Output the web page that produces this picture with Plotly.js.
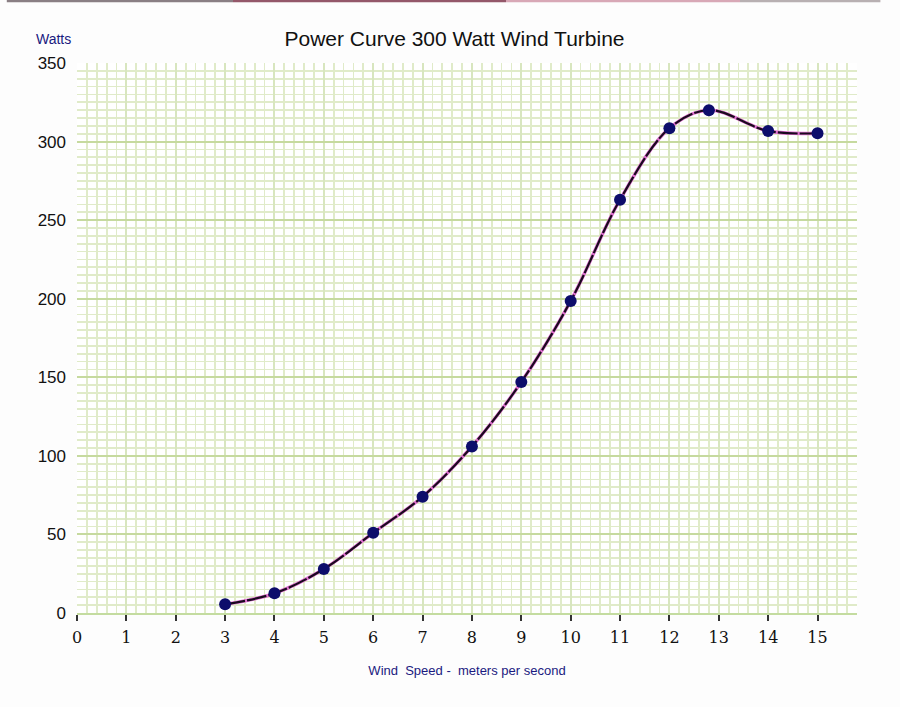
<!DOCTYPE html>
<html><head><meta charset="utf-8">
<script src="https://cdn.plot.ly/plotly-3.0.1.min.js"></script>
<style>html,body{margin:0;padding:0;background:#fdfdfd;}#chart{width:900px;height:707px;}</style>
</head><body><div id="chart"></div>
<script>
const windSpeed = [3, 4, 5, 6, 7, 8, 9, 10, 11, 12, 12.8, 14, 15];
const watts = [5.5, 12.5, 28, 51, 74, 106, 147, 198.5, 263, 308.5, 320, 306.7, 305.3];
const xTicks = [0,1,2,3,4,5,6,7,8,9,10,11,12,13,14,15,16];
const yTicks = [0,50,100,150,200,250,300,350];

const traces = [
  {x: windSpeed, y: watts, mode: 'lines', line: {shape: 'spline', smoothing: 1, color: '#e070d0', width: 3.4}, hoverinfo: 'skip'},
  {x: windSpeed, y: watts, mode: 'lines+markers', line: {shape: 'spline', smoothing: 1, color: '#1a0a1e', width: 2.2, dash: '20px,2px'},
   marker: {color: '#0d0d6b', size: 12}}
];
const gridFaint = '#e0ebc9';
const layout = {
  width: 900, height: 707,
  paper_bgcolor: '#fdfdfd', plot_bgcolor: '#ffffff',
  margin: {l: 77, r: 43, t: 63, b: 94},
  showlegend: false,
  title: {text: 'Power Curve 300 Watt Wind Turbine', x: 0.505, xanchor: 'center', y: 0.945, yanchor: 'middle',
          font: {family: 'Liberation Sans, Arial, sans-serif', size: 21, color: '#111'}},
  xaxis: {
    range: [0, 15.8], tickmode: 'linear', tick0: xTicks[0], dtick: xTicks[1] - xTicks[0],
    ticks: 'outside', ticklen: 6, tickcolor: '#333', tickwidth: 2,
    ticklabelstandoff: 3,
    tickfont: {family: 'DejaVu Serif, serif', size: 16, color: '#111'},
    showgrid: true, gridcolor: '#d8e6bf', gridwidth: 2,
    minor: {dtick: 0.2, showgrid: true, gridcolor: gridFaint, gridwidth: 1.8},
    zeroline: false, showline: true, linecolor: '#c4dca0', linewidth: 2,
    title: {text: 'Wind&nbsp;&nbsp;Speed -&nbsp;&nbsp;meters per second', standoff: 20,
            font: {family: 'Liberation Sans, Arial, sans-serif', size: 13, color: '#1a1a80'}},
    fixedrange: true
  },
  yaxis: {
    range: [0, 350], tickmode: 'linear', tick0: yTicks[0], dtick: yTicks[1] - yTicks[0],
    ticks: '', ticklabelstandoff: 10,
    tickfont: {family: 'Liberation Sans, Arial, sans-serif', size: 17, color: '#111'},
    showgrid: true, gridcolor: '#c6da9f', gridwidth: 2,
    minor: {dtick: 5, showgrid: true, gridcolor: gridFaint, gridwidth: 1.8},
    zeroline: false, showline: false,
    fixedrange: true
  },
  shapes: [
    {type: 'rect', xref: 'paper', yref: 'paper', x0: -0.09, x1: 0.2, y0: 1.1105, y1: 1.1145, line: {width: 0}, fillcolor: '#8a7f84'},
    {type: 'rect', xref: 'paper', yref: 'paper', x0: 0.2, x1: 0.55, y0: 1.1105, y1: 1.1145, line: {width: 0}, fillcolor: '#94586a'},
    {type: 'rect', xref: 'paper', yref: 'paper', x0: 0.55, x1: 0.85, y0: 1.1105, y1: 1.1145, line: {width: 0}, fillcolor: '#d8a8b6'},
    {type: 'rect', xref: 'paper', yref: 'paper', x0: 0.85, x1: 1.03, y0: 1.1105, y1: 1.1145, line: {width: 0}, fillcolor: '#b8b0b2'}
  ],
  annotations: [
    {text: 'Watts', xref: 'paper', yref: 'paper', x: -0.055, y: 1.043, xanchor: 'left', yanchor: 'middle', showarrow: false,
     font: {family: 'Liberation Sans, Arial, sans-serif', size: 14, color: '#1a1a80'}}
  ]
};
Plotly.newPlot('chart', traces, layout, {displayModeBar: false, staticPlot: true});
</script></body></html>
